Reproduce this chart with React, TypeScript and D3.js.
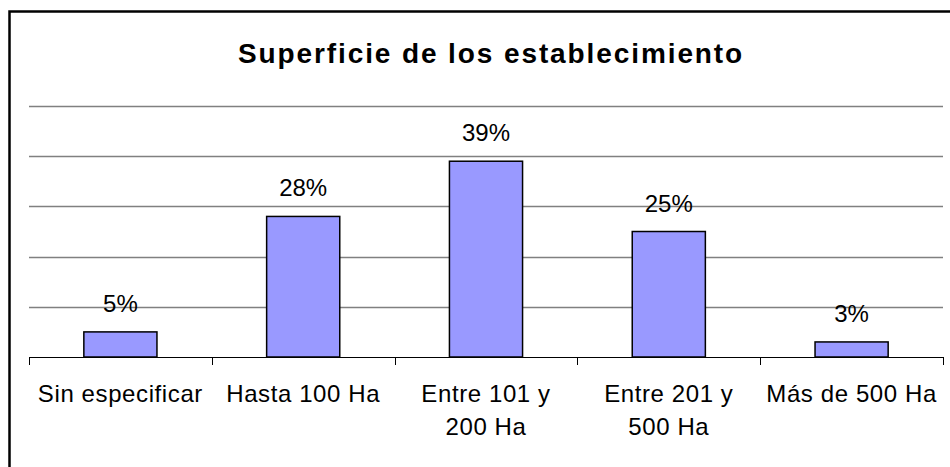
import React, { useEffect, useRef } from "react";
import * as d3 from "d3";

// Chart data
const categories = [
  ["Sin especificar"],
  ["Hasta 100 Ha"],
  ["Entre 101 y", "200 Ha"],
  ["Entre 201 y", "500 Ha"],
  ["Más de 500 Ha"],
];
const values = [5, 28, 39, 25, 3];
const gridTicks = [10, 20, 30, 40, 50];
const title = "Superficie de los establecimiento";

const App = () => {
  const svgRef = useRef<SVGSVGElement>(null);

  useEffect(() => {
    const svg = d3.select(svgRef.current);
    svg.selectAll("*").remove();

    const width = 950;
    const height = 467;
    const plot = { left: 29, right: 943, top: 106, bottom: 357 };
    const font = "Arial, 'Liberation Sans', sans-serif";

    svg
      .append("rect")
      .attr("width", width)
      .attr("height", height)
      .attr("fill", "#ffffff");

    // outer frame
    svg
      .append("rect")
      .attr("x", 9.5)
      .attr("y", 11.5)
      .attr("width", 980)
      .attr("height", 500)
      .attr("fill", "none")
      .attr("stroke", "#000")
      .attr("stroke-width", 2.5);

    svg
      .append("text")
      .attr("x", 491)
      .attr("y", 63)
      .attr("text-anchor", "middle")
      .attr("font-family", font)
      .attr("font-weight", "bold")
      .attr("font-size", 28)
      .attr("letter-spacing", 1.9)
      .attr("fill", "#000")
      .text(title);

    const xScale = d3
      .scaleBand<number>()
      .domain(d3.range(values.length))
      .range([plot.left, plot.right])
      .paddingInner(0.6)
      .paddingOuter(0.3);

    const yScale = d3.scaleLinear().domain([0, 50]).range([plot.bottom, plot.top]);

    // gridlines
    svg
      .append("g")
      .selectAll("line")
      .data(gridTicks)
      .join("line")
      .attr("x1", plot.left)
      .attr("x2", plot.right)
      .attr("y1", (d) => Math.round(yScale(d)) + 0.5)
      .attr("y2", (d) => Math.round(yScale(d)) + 0.5)
      .attr("stroke", "#808080")
      .attr("stroke-width", 1.5);

    // bars
    svg
      .append("g")
      .selectAll("rect")
      .data(values)
      .join("rect")
      .attr("x", (d, i) => xScale(i)!)
      .attr("y", (d) => yScale(d))
      .attr("width", xScale.bandwidth())
      .attr("height", (d) => yScale(0) - yScale(d))
      .attr("fill", "#9999ff")
      .attr("stroke", "#000")
      .attr("stroke-width", 1.5);

    // value labels
    svg
      .append("g")
      .selectAll("text")
      .data(values)
      .join("text")
      .attr("x", (d, i) => xScale(i)! + xScale.bandwidth() / 2)
      .attr("y", (d) => yScale(d) - 20)
      .attr("text-anchor", "middle")
      .attr("font-family", font)
      .attr("font-size", 24)
      .attr("fill", "#000")
      .text((d) => `${d}%`);

    // x axis baseline and ticks
    const step = (plot.right - plot.left) / values.length;
    svg
      .append("line")
      .attr("x1", plot.left)
      .attr("x2", plot.right)
      .attr("y1", plot.bottom + 0.5)
      .attr("y2", plot.bottom + 0.5)
      .attr("stroke", "#000")
      .attr("stroke-width", 1);
    svg
      .append("g")
      .selectAll("line")
      .data(d3.range(values.length + 1))
      .join("line")
      .attr("x1", (i) => Math.round(plot.left + i * step) + 0.5)
      .attr("x2", (i) => Math.round(plot.left + i * step) + 0.5)
      .attr("y1", plot.bottom)
      .attr("y2", plot.bottom + 8)
      .attr("stroke", "#000")
      .attr("stroke-width", 1);

    // category labels
    const labels = svg
      .append("g")
      .selectAll("text")
      .data(categories)
      .join("text")
      .attr("x", (d, i) => xScale(i)! + xScale.bandwidth() / 2)
      .attr("y", 402)
      .attr("text-anchor", "middle")
      .attr("font-family", font)
      .attr("font-size", 24)
      .attr("letter-spacing", 0.6)
      .attr("fill", "#000");
    labels
      .selectAll("tspan")
      .data((d) => d)
      .join("tspan")
      .attr("x", function () {
        return (this.parentNode as SVGTextElement).getAttribute("x");
      })
      .attr("dy", (d, j) => (j === 0 ? 0 : 33))
      .text((d) => d);
  }, []);

  return (
    <svg
      ref={svgRef}
      width={950}
      height={467}
      style={{ position: "absolute", left: 0, top: 0 }}
    ></svg>
  );
};

export default App;
